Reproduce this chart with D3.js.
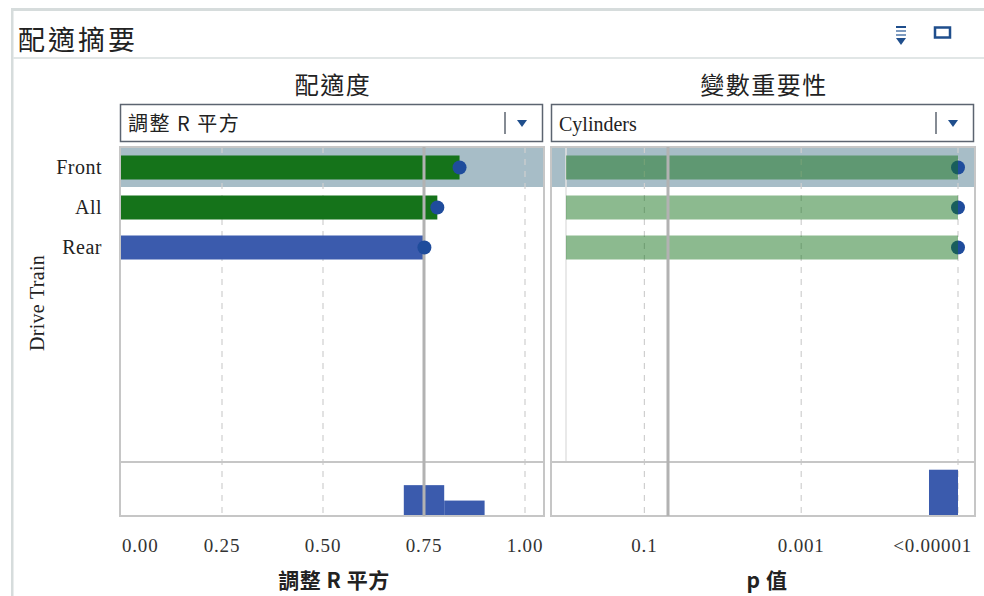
<!DOCTYPE html>
<html>
<head>
<meta charset="utf-8">
<script src="https://cdn.jsdelivr.net/npm/d3@7"></script>
<style>
  html, body { margin: 0; padding: 0; background: #fff; }
  svg { display: block; }
  .cjk { font-family: "Noto Sans CJK TC", "Noto Sans", sans-serif; }
  .serif { font-family: "Liberation Serif", "DejaVu Serif", serif; }
</style>
</head>
<body>
<div id="chart"></div>
<script>
// Data
const driveTrains = ['Front', 'All', 'Rear'];
const adjR2 = [0.838, 0.783, 0.751];
const negLogP = [5, 5, 5];                 // -log10(p), clamped at <0.00001
const fitColors = ['#15731a', '#15731a', '#3b5bad'];
const fitTicks = [0, 0.25, 0.5, 0.75, 1];
const fitTickLabels = ['0.00', '0.25', '0.50', '0.75', '1.00'];
const pTicks = [1, 3, 5];
const pTickLabels = ['0.1', '0.001', '<0.00001'];
const fitHist = [{ x0: 0.7, x1: 0.8, n: 2 }, { x0: 0.8, x1: 0.9, n: 1 }];
const pHist = [{ x0: 4.63, x1: 5, n: 3 }];
const fitRef = 0.75;
const pRef = 0.05;

const W = 984, H = 596;
const TOP = 147, SPLIT = 462, BOTTOM = 516;
const LEFT_PANEL = { x0: 120, x1: 544 };
const RIGHT_PANEL = { x0: 551, x1: 975 };

const svg = d3.select('#chart').append('svg')
  .attr('width', W).attr('height', H);

// Outer frame + title bar
svg.append('rect').attr('x', 11).attr('y', 8).attr('width', W - 11).attr('height', 3).attr('fill', '#d6dcdc');
svg.append('rect').attr('x', 11).attr('y', 8).attr('width', 2.5).attr('height', H).attr('fill', '#d6dcdc');
svg.append('rect').attr('x', 13).attr('y', 57).attr('width', W - 13).attr('height', 2).attr('fill', '#e1e6e6');
svg.append('text').attr('class', 'cjk')
  .attr('x', 18).attr('y', 50).attr('font-size', 27).attr('letter-spacing', 3).attr('fill', '#222')
  .text('配適摘要');

// Header icons
const icon = svg.append('g').attr('fill', '#1f4e8c');
[26, 30, 34].forEach(y => icon.append('rect').attr('x', 896).attr('y', y).attr('width', 10).attr('height', 2)
  .attr('fill', y === 26 ? '#1f4e8c' : '#7d9bc0'));
icon.append('path').attr('d', 'M896,38 L906,38 L901,45 Z');
svg.append('rect').attr('x', 935).attr('y', 27.5).attr('width', 15).attr('height', 10)
  .attr('fill', 'none').attr('stroke', '#1f4e8c').attr('stroke-width', 2.5);

// Scales
const y = d3.scaleBand().domain(driveTrains).range([147.5, 267.5]).paddingInner(0.4).paddingOuter(0.2);
const xFit = d3.scaleLinear().domain([0, 1]).range([121, 525]);
const xP = d3.scaleLinear().domain([0, 5]).range([566, 958]);
const hY = d3.scaleLinear().domain([0, 3.5]).range([BOTTOM, SPLIT]);
const color = d3.scaleOrdinal().domain(driveTrains).range(fitColors);

function panel(p, title, dropText, dropFont) {
  const cx = (p.x0 + p.x1) / 2;
  svg.append('text').attr('class', 'cjk').attr('x', cx + 1).attr('y', 94)
    .attr('text-anchor', 'middle').attr('font-size', 24).attr('letter-spacing', 1.5)
    .attr('fill', '#222').text(title);
  // dropdown
  svg.append('rect').attr('x', p.x0 + 0.5).attr('y', 104.5).attr('width', p.x1 - p.x0 - 2).attr('height', 37)
    .attr('fill', '#fff').attr('stroke', '#5c6470').attr('stroke-width', 1.5);
  const dt = svg.append('text').attr('class', dropFont).attr('x', p.x0 + 8).attr('y', 131)
    .attr('fill', '#222').text(dropText);
  if (dropFont === 'cjk') dt.attr('font-size', 20).attr('letter-spacing', 1.5);
  else dt.attr('font-size', 20);
  svg.append('line').attr('x1', p.x1 - 39).attr('x2', p.x1 - 39).attr('y1', 112).attr('y2', 134)
    .attr('stroke', '#5c6470').attr('stroke-width', 1.5);
  svg.append('path').attr('d', `M${p.x1 - 27},120 L${p.x1 - 17},120 L${p.x1 - 22},127 Z`).attr('fill', '#1f4e8c');
  // highlight band for the selected row
  svg.append('rect').attr('x', p.x0).attr('y', y('Front') + y.bandwidth() / 2 - 19.5)
    .attr('width', p.x1 - p.x0).attr('height', 39).attr('fill', '#a7bdc7');
}

function frame(p) {
  svg.append('rect').attr('x', p.x0).attr('y', TOP).attr('width', p.x1 - p.x0).attr('height', BOTTOM - TOP)
    .attr('fill', 'none').attr('stroke', '#c6c6c6').attr('stroke-width', 2);
  svg.append('line').attr('x1', p.x0).attr('x2', p.x1).attr('y1', SPLIT).attr('y2', SPLIT)
    .attr('stroke', '#c6c6c6').attr('stroke-width', 2);
}

function grid(scale, ticks) {
  svg.append('g').selectAll('line').data(ticks).join('line')
    .attr('x1', d => scale(d)).attr('x2', d => scale(d))
    .attr('y1', TOP).attr('y2', BOTTOM)
    .attr('stroke', '#cfcfcf').attr('stroke-width', 1.2).attr('stroke-dasharray', '6,6');
}

function refLine(xpos) {
  svg.append('line').attr('x1', xpos).attr('x2', xpos).attr('y1', TOP).attr('y2', BOTTOM)
    .attr('stroke', '#b2b2b2').attr('stroke-width', 3);
}

function tickLabels(scale, ticks, labels, anchors) {
  svg.append('g').attr('class', 'serif').selectAll('text').data(ticks).join('text')
    .attr('x', (d, i) => anchors[i] === 'start' ? scale(d) + 1 : anchors[i] === 'end' ? scale(d) + 14 : scale(d))
    .attr('y', 552).attr('text-anchor', (d, i) => anchors[i])
    .attr('font-size', 19).attr('letter-spacing', 0.8).attr('fill', '#333').text((d, i) => labels[i]);
}

// ---- Left: 配適度 ----
panel(LEFT_PANEL, '配適度', '調整 R 平方', 'cjk');
grid(xFit, fitTicks.filter(t => t > 0));

svg.append('g').selectAll('rect').data(driveTrains).join('rect')
  .attr('x', xFit(0)).attr('y', d => y(d))
  .attr('width', (d, i) => xFit(adjR2[i]) - xFit(0)).attr('height', y.bandwidth())
  .attr('fill', d => color(d));

svg.append('g').selectAll('rect').data(fitHist).join('rect')
  .attr('x', d => xFit(d.x0)).attr('width', d => xFit(d.x1) - xFit(d.x0))
  .attr('y', d => hY(d.n)).attr('height', d => hY(0) - hY(d.n))
  .attr('fill', '#3b5bad');

frame(LEFT_PANEL);
refLine(xFit(fitRef));

svg.append('g').selectAll('circle').data(driveTrains).join('circle')
  .attr('cx', (d, i) => xFit(adjR2[i])).attr('cy', d => y(d) + y.bandwidth() / 2)
  .attr('r', 7).attr('fill', '#1f4c9c');

tickLabels(xFit, fitTicks, fitTickLabels, ['start', 'middle', 'middle', 'middle', 'middle']);
svg.append('text').attr('class', 'cjk').attr('x', 334).attr('y', 588)
  .attr('text-anchor', 'middle').attr('font-size', 21).attr('letter-spacing', 0.5)
  .attr('font-weight', 'bold').attr('fill', '#222')
  .text('調整 R 平方');

// ---- Right: 變數重要性 ----
panel(RIGHT_PANEL, '變數重要性', 'Cylinders', 'serif');
grid(xP, pTicks);
svg.append('line').attr('x1', xP(0)).attr('x2', xP(0)).attr('y1', TOP).attr('y2', SPLIT)
  .attr('stroke', '#e2e2e2').attr('stroke-width', 1.5);

svg.append('g').selectAll('circle').data(driveTrains).join('circle')
  .attr('cx', (d, i) => xP(negLogP[i])).attr('cy', d => y(d) + y.bandwidth() / 2)
  .attr('r', 7).attr('fill', '#1f4c9c');

svg.append('g').selectAll('rect').data(driveTrains).join('rect')
  .attr('x', xP(0)).attr('y', d => y(d))
  .attr('width', (d, i) => xP(negLogP[i]) - xP(0)).attr('height', y.bandwidth())
  .attr('fill', '#15731a').attr('fill-opacity', 0.49);

svg.append('g').selectAll('rect.h').data(pHist).join('rect')
  .attr('x', d => xP(d.x0)).attr('width', d => xP(d.x1) - xP(d.x0))
  .attr('y', d => hY(d.n)).attr('height', d => hY(0) - hY(d.n))
  .attr('fill', '#3b5bad');

frame(RIGHT_PANEL);
refLine(xP(-Math.log10(pRef)));

tickLabels(xP, pTicks, pTickLabels, ['middle', 'middle', 'end']);
svg.append('text').attr('class', 'cjk').attr('x', 767).attr('y', 588)
  .attr('text-anchor', 'middle').attr('font-size', 21).attr('letter-spacing', 0.5)
  .attr('font-weight', 'bold').attr('fill', '#222')
  .text('p 值');

// ---- Category axis ----
svg.append('g').attr('class', 'serif').selectAll('text').data(driveTrains).join('text')
  .attr('x', 102).attr('y', d => y(d) + y.bandwidth() / 2 + 6)
  .attr('text-anchor', 'end').attr('font-size', 20).attr('letter-spacing', 0.5)
  .attr('fill', '#222').text(d => d);
svg.append('text').attr('class', 'serif')
  .attr('transform', 'translate(44,303) rotate(-90)')
  .attr('text-anchor', 'middle').attr('font-size', 20).attr('letter-spacing', 0.3)
  .attr('fill', '#222').text('Drive Train');
</script>
</body>
</html>
